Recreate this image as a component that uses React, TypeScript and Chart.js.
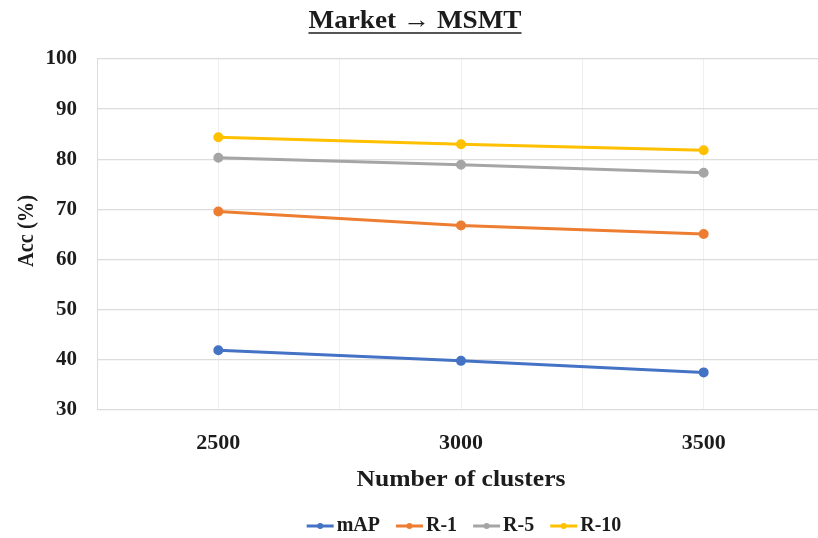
import { useEffect, useRef } from 'react';
import { Chart, registerables } from 'chart.js';

Chart.register(...registerables);

// Accuracy vs. number of clusters, Market -> MSMT
const clusterCounts = [2500, 3000, 3500];
const mapValues = [41.9, 39.8, 37.5];
const rank1Values = [69.6, 66.8, 65.1];
const rank5Values = [80.3, 78.9, 77.3];
const rank10Values = [84.4, 83.0, 81.8];

const seriesNames = ['mAP', 'R-1', 'R-5', 'R-10'];
const seriesColors = ['#4472C4', '#ED7D31', '#A5A5A5', '#FFC000'];
const shownXTicks = [2500, 3000, 3500];

const chartTitle = 'Market \u2192 MSMT';
const xAxisTitle = 'Number of clusters';
const yAxisTitle = 'Acc (%)';

const FONT = '"Liberation Serif", "Times New Roman", serif';
const TEXT = '#1c1c1c';

// draws text stretched to a given width around a centre point
function fillFitted(ctx: CanvasRenderingContext2D, text: string, cx: number, cy: number, width: number) {
  const w = ctx.measureText(text).width;
  ctx.save();
  ctx.translate(cx, cy);
  ctx.scale(width / w, 1);
  ctx.textAlign = 'center';
  ctx.fillText(text, 0, 0);
  ctx.restore();
}

const decorations = {
  id: 'decorations',
  afterDraw(chart: any) {
    const ctx = chart.ctx as CanvasRenderingContext2D;
    ctx.save();
    ctx.fillStyle = TEXT;

    // underlined title
    ctx.font = `bold 25px ${FONT}`;
    ctx.textBaseline = 'alphabetic';
    const tx = 415;
    const ty = 28;
    const tw = 213;
    fillFitted(ctx, chartTitle, tx, ty, tw);
    ctx.strokeStyle = TEXT;
    ctx.lineWidth = 1.5;
    ctx.beginPath();
    ctx.moveTo(tx - tw / 2, ty + 5);
    ctx.lineTo(tx + tw / 2, ty + 5);
    ctx.stroke();

    // axis titles
    ctx.font = `bold 23px ${FONT}`;
    ctx.textBaseline = 'middle';
    fillFitted(ctx, xAxisTitle, 461, 480, 209);
    ctx.save();
    ctx.translate(27, 231);
    ctx.rotate(-Math.PI / 2);
    ctx.font = `bold 23px ${FONT}`;
    fillFitted(ctx, yAxisTitle, 0, 0, 72);
    ctx.restore();

    // legend: line with marker, then label
    ctx.font = `bold 20px ${FONT}`;
    const lineLen = 27;
    const gapAfterLine = 3;
    const gapItems = 16;
    const widths = seriesNames.map((n) => ctx.measureText(n).width);
    const total =
      widths.reduce((a, w) => a + w + lineLen + gapAfterLine, 0) + gapItems * (seriesNames.length - 1);
    let x = 464 - total / 2;
    const ly = 526;
    ctx.textAlign = 'left';
    seriesNames.forEach((name, i) => {
      ctx.strokeStyle = seriesColors[i];
      ctx.fillStyle = seriesColors[i];
      ctx.lineWidth = 3;
      ctx.beginPath();
      ctx.moveTo(x, ly);
      ctx.lineTo(x + lineLen, ly);
      ctx.stroke();
      ctx.beginPath();
      ctx.arc(x + lineLen / 2, ly, 3, 0, Math.PI * 2);
      ctx.fill();
      ctx.fillStyle = TEXT;
      ctx.fillText(name, x + lineLen + gapAfterLine, ly);
      x += lineLen + gapAfterLine + widths[i] + gapItems;
    });

    ctx.restore();
  },
};

export default function App() {
  const canvasRef = useRef<HTMLCanvasElement | null>(null);

  useEffect(() => {
    const canvas = canvasRef.current;
    if (!canvas) return;
    const valueSets = [mapValues, rank1Values, rank5Values, rank10Values];
    const chart = new Chart(canvas, {
      type: 'line',
      data: {
        datasets: seriesNames.map((name, i) => ({
          label: name,
          data: clusterCounts.map((c, j) => ({ x: c, y: valueSets[i][j] })),
          borderColor: seriesColors[i],
          backgroundColor: seriesColors[i],
          borderWidth: 3,
          pointRadius: 3.5,
          pointHoverRadius: 3.5,
          tension: 0,
        })),
      },
      options: {
        responsive: false,
        animation: false,
        layout: { padding: { top: 59, right: 0, left: 0, bottom: 0 } },
        plugins: {
          legend: { display: false },
          title: { display: false },
          tooltip: { enabled: false },
        },
        scales: {
          x: {
            type: 'linear',
            min: 2250,
            max: 3750,
            border: { display: false },
            grid: {
              color: (c: any) => (c.tick && c.tick.value === 2250 ? '#dcdcdc' : '#efefef'),
              lineWidth: 1,
              drawTicks: false,
            },
            ticks: {
              stepSize: 250,
              padding: 20,
              color: TEXT,
              font: { family: FONT, size: 22, weight: 'bold' },
              maxRotation: 0,
              autoSkip: false,
              callback: (v: any) => (shownXTicks.includes(Number(v)) ? String(v) : ''),
            },
            afterFit: (s: any) => {
              s.height = 128;
            },
          },
          y: {
            min: 30,
            max: 100,
            border: { display: false },
            grid: { color: '#dcdcdc', lineWidth: 1.3, drawTicks: false },
            ticks: {
              stepSize: 10,
              padding: 20,
              color: TEXT,
              font: { family: FONT, size: 21, weight: 'bold' },
            },
            afterFit: (s: any) => {
              s.width = 97;
            },
          },
        },
      },
      plugins: [decorations],
    });
    return () => chart.destroy();
  }, []);

  return (
    <div
      style={{
        position: 'absolute',
        left: 0,
        top: 0,
        width: 818,
        height: 538,
        overflow: 'hidden',
        background: '#ffffff',
      }}
    >
      <canvas ref={canvasRef} width={845} height={538} style={{ display: 'block' }} />
    </div>
  );
}
